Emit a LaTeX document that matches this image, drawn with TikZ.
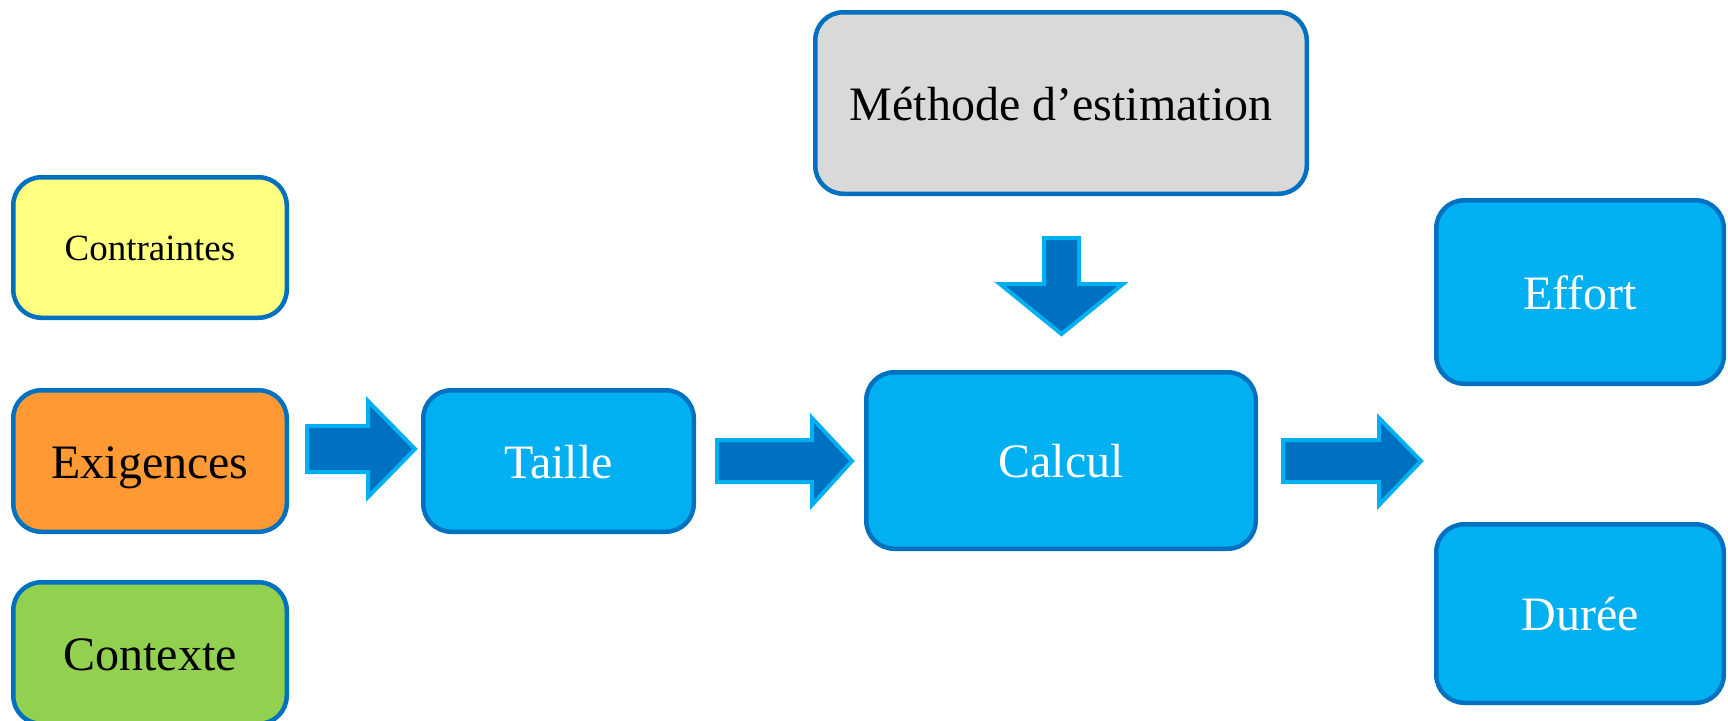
\documentclass[tikz,border=0pt]{standalone}
\usepackage{fontspec}
\setmainfont{Liberation Serif}
\definecolor{boxblue}{HTML}{00B0F0}
\definecolor{edgeblue}{HTML}{0070C0}
\definecolor{boxyellow}{HTML}{FFFF80}
\definecolor{boxorange}{HTML}{FF9933}
\definecolor{boxgreen}{HTML}{92D050}
\definecolor{boxgray}{HTML}{D9D9D9}
\tikzset{
  box/.style={draw=edgeblue, line width=2.25pt, rounded corners=14pt, inner sep=0pt,
    font=\fontsize{24}{28}\selectfont, text=black, text height=17pt, text depth=0pt},
  bluebox/.style={box, fill=boxblue, text=white},
  blockarrow/.style={draw=boxblue, fill=edgeblue, line width=2pt, line join=miter}
}
\begin{document}
\begin{tikzpicture}[x=0.5pt,y=-0.5pt]
\useasboundingbox (0,0) rectangle (1728,720);
% nodes
\node[box, fill=boxyellow, minimum width=136.75pt, minimum height=70.25pt,
      font=\fontsize{18.5}{22}\selectfont, text height=13pt] (contraintes) at (150,247.5) {Contraintes};
\node[box, fill=boxorange, minimum width=136.75pt, minimum height=70.75pt] (exigences) at (150,461) {Exigences};
\node[box, fill=boxgreen, minimum width=136.75pt, minimum height=70.75pt] (contexte) at (150,653) {Contexte};
\node[bluebox, minimum width=135.25pt, minimum height=70.75pt] (taille) at (558.5,461) {Taille};
\node[bluebox, minimum width=194.75pt, minimum height=88.25pt] (calcul) at (1061,460.5) {Calcul};
\node[box, fill=boxgray, minimum width=245.75pt, minimum height=90.75pt] (methode) at (1061,103) {Méthode d’estimation};
\node[bluebox, minimum width=143.75pt, minimum height=91.75pt] (effort) at (1580,292) {Effort};
\node[bluebox, minimum width=143.75pt, minimum height=89.25pt] (duree) at (1580,613.5) {Durée};
% block arrows
\draw[blockarrow] (307,426) -- (368,426) -- (368,401) -- (415,449) -- (368,497) -- (368,472) -- (307,472) -- cycle;
\draw[blockarrow] (717,440) -- (812,440) -- (812,418) -- (852,461) -- (812,505) -- (812,482) -- (717,482) -- cycle;
\draw[blockarrow] (1283,440) -- (1379,440) -- (1379,418) -- (1421,461) -- (1379,505) -- (1379,482) -- (1283,482) -- cycle;
\draw[blockarrow] (1044,238) -- (1079,238) -- (1079,284) -- (1123,284) -- (1061.5,334) -- (1000,284) -- (1044,284) -- cycle;
\end{tikzpicture}
\end{document}
